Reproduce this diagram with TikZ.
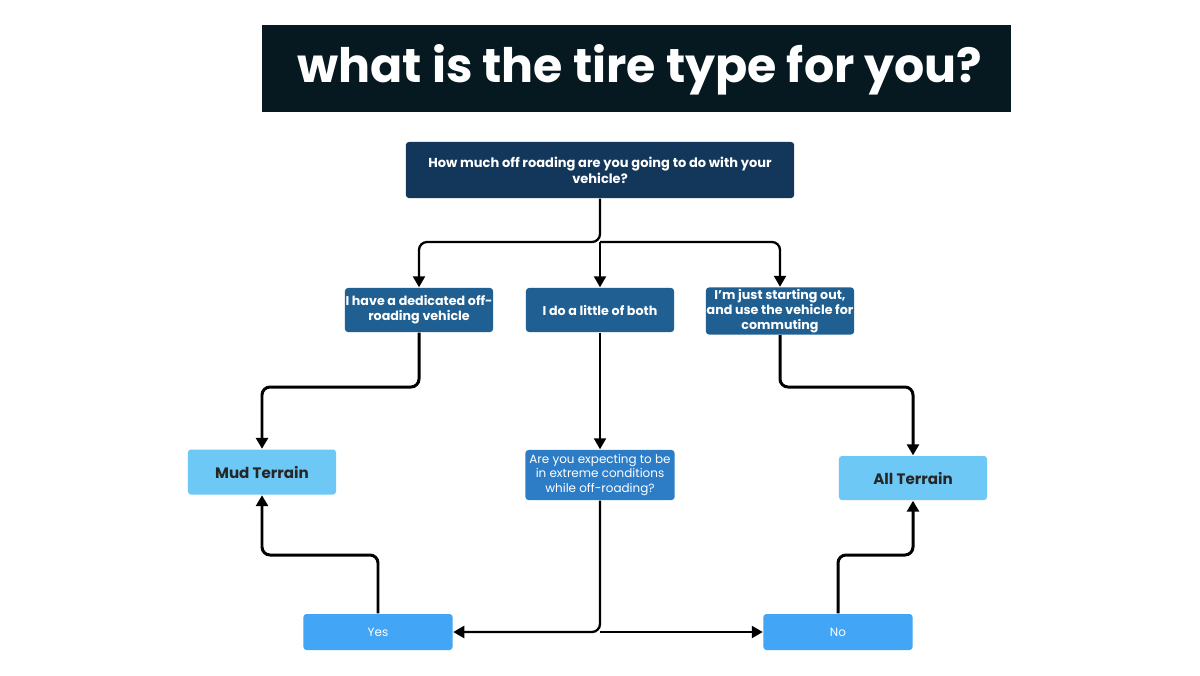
\documentclass[tikz,border=0pt]{standalone}
\usepackage{fontspec}
\setmainfont{Poppins}
\usetikzlibrary{arrows.meta}
\definecolor{titlebg}{HTML}{061820}
\definecolor{navy}{HTML}{12375A}
\definecolor{midblue}{HTML}{1F5F91}
\definecolor{qblue}{HTML}{2C7CC6}
\definecolor{light}{HTML}{6EC8F6}
\definecolor{ansblue}{HTML}{42A5F5}
\tikzset{
  box/.style={rectangle, rounded corners=0.3mm, align=center, inner sep=0pt, text=white},
  choice/.style={box, fill=midblue, minimum width=1.48cm, font=\fontsize{3.6}{4.2}\selectfont\bfseries},
  result/.style={box, fill=light, text=black!85, minimum width=1.48cm, font=\fontsize{4.3}{5}\selectfont\bfseries},
  answer/.style={box, fill=ansblue, minimum width=1.49cm, minimum height=0.36cm, font=\fontsize{3.4}{4}\selectfont},
  link/.style={draw=black, line width=0.85pt, rounded corners=0.8mm, -{Triangle[length=1.1mm,width=1.2mm]}}
}
\begin{document}
\begin{tikzpicture}[x=0.01cm,y=-0.01cm]
\useasboundingbox (0,0) rectangle (1200,675);
\fill[white] (0,0) rectangle (1200,675);

% title
\fill[titlebg] (262,25) rectangle (1011,112);
\node[anchor=west, text=white, font=\fontsize{13.5}{15}\selectfont\bfseries] (title) at (285,70) {what is the tire type for you?};

% boxes
\node[box, fill=navy, minimum width=3.88cm, minimum height=0.56cm, font=\fontsize{3.7}{4.6}\selectfont\bfseries] (start) at (600,170) {How much off roading are you going to do with your\\vehicle?};
\node[choice, minimum height=0.44cm] (dedicated) at (419,310) {I have a dedicated off-\\roading vehicle};
\node[choice, minimum height=0.44cm] (both) at (600,310) {I do a little of both};
\node[choice, minimum height=0.47cm] (starting) at (780,311) {I'm just starting out,\\and use the vehicle for\\commuting};
\node[result, minimum height=0.45cm] (mud) at (262,472) {Mud Terrain};
\node[result, minimum height=0.44cm] (all) at (913,478) {All Terrain};
\node[box, fill=qblue, minimum width=1.49cm, minimum height=0.50cm, font=\fontsize{3.4}{4.1}\selectfont] (extreme) at (600,475) {Are you expecting to be\\in extreme conditions\\while off-roading?};
\node[answer] (yes) at (378,632) {Yes};
\node[answer] (no) at (838,632) {No};

% connectors
\coordinate (split) at (600,242);
\draw[link, line width=0.65pt] (start.south) -- (split) -| (dedicated.north);
\draw[link, line width=0.65pt] (split) -| (starting.north);
\draw[link, line width=0.65pt] (split) -- (both.north);
\draw[link] (dedicated.south) |- (340,387) -| (mud.north);
\draw[link] (starting.south) |- (850,387) -| (all.north);
\draw[link, line width=0.65pt] (both.south) -- (extreme.north);
\coordinate (fork) at (600,632);
\draw[link, line width=0.65pt] (extreme.south) -- (fork) -- (yes.east);
\draw[link, line width=0.65pt] (fork) -- (no.west);
\draw[link] (yes.north) |- (320,555) -| (mud.south);
\draw[link] (no.north) |- (880,555) -| (all.south);
\end{tikzpicture}
\end{document}
